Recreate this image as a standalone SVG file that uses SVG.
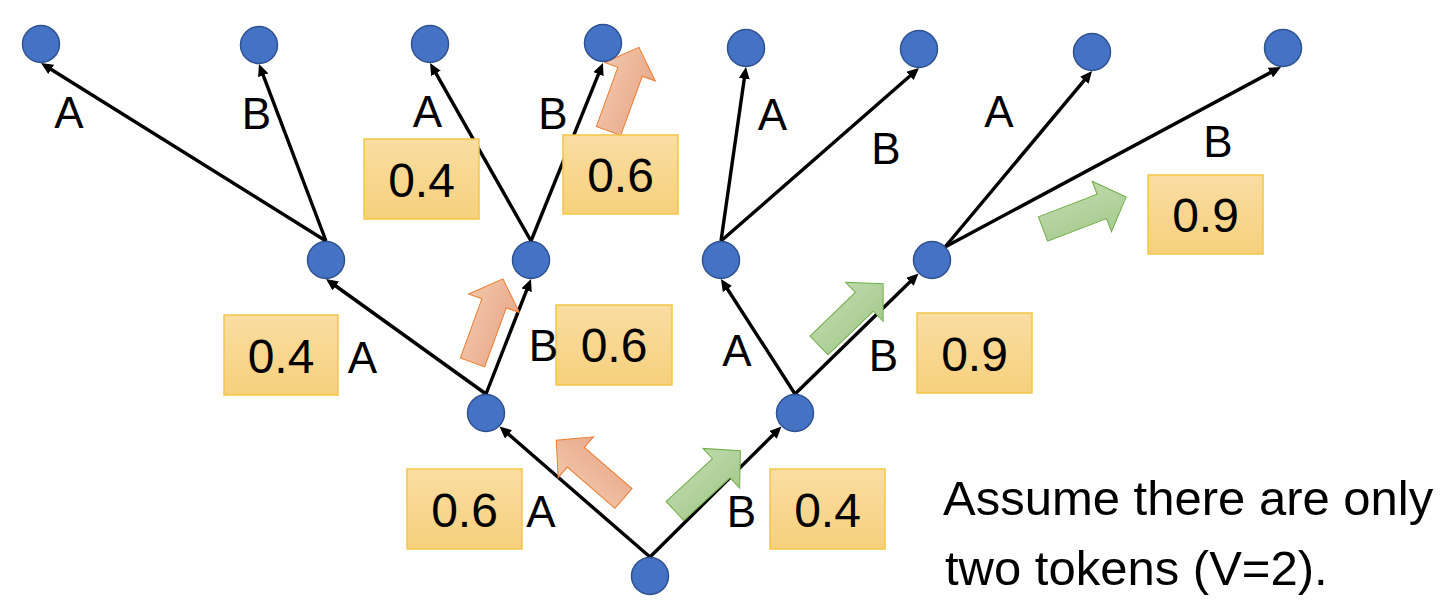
<svg xmlns="http://www.w3.org/2000/svg" xmlns:xlink="http://www.w3.org/1999/xlink" width="1442" height="616" viewBox="0 0 1442 616">
<style>
.edge{stroke:#000;stroke-width:3.4;fill:none;marker-end:url(#ah)}
.node{fill:#4472C4;stroke:#2F528F;stroke-width:1.5}
.box{fill:url(#gbox);stroke:#F4C646;stroke-width:1.5}
.num{font-family:"Liberation Sans",Arial,sans-serif;font-size:48px;text-anchor:middle;fill:#000}
.lbl{font-family:"Liberation Sans",Arial,sans-serif;font-size:44px;text-anchor:middle;fill:#000}
.note{font-family:"Liberation Sans",Arial,sans-serif;font-size:49px;fill:#000}
.orange{fill:url(#gor);stroke:#ED7D31;stroke-width:1}
.green{fill:url(#ggr);stroke:#70AD47;stroke-width:1}
</style>
<defs>
<marker id="ah" viewBox="0 0 12 11" markerWidth="12" markerHeight="11" refX="6" refY="5.5" markerUnits="userSpaceOnUse" orient="auto">
<path d="M0,0 L12,5.5 L0,11 z" fill="#000"/>
</marker>
<linearGradient id="gbox" x1="0" y1="0" x2="0" y2="1">
<stop offset="0" stop-color="#F9DDA2"/>
<stop offset="1" stop-color="#F6D07C"/>
</linearGradient>
<linearGradient id="gor" x1="0" y1="0" x2="0" y2="1">
<stop offset="0" stop-color="#F2C6AA"/>
<stop offset="1" stop-color="#E9A98B"/>
</linearGradient>
<linearGradient id="ggr" x1="0" y1="0" x2="0" y2="1">
<stop offset="0" stop-color="#BDD9AB"/>
<stop offset="1" stop-color="#A6CB8E"/>
</linearGradient>
<path id="barrow" d="M0,-13 L63,-13 L63,-27 L89,0 L63,27 L63,13 L0,13 z"/>
</defs>
<rect width="1442" height="616" fill="#fff"/>

<g id="connectors">
<line class="edge" x1="650" y1="557" x2="504.0" y2="430.4"/>
<line class="edge" x1="650" y1="557" x2="777.2" y2="430.7"/>
<line class="edge" x1="486" y1="394" x2="330.9" y2="282.5"/>
<line class="edge" x1="486" y1="394" x2="528.8" y2="284.6"/>
<line class="edge" x1="795" y1="394" x2="724.2" y2="284.0"/>
<line class="edge" x1="795" y1="394" x2="914.2" y2="277.7"/>
<line class="edge" x1="326" y1="241" x2="46.1" y2="66.2"/>
<line class="edge" x1="326" y1="241" x2="261.1" y2="69.6"/>
<line class="edge" x1="531" y1="241" x2="433.0" y2="68.2"/>
<line class="edge" x1="531" y1="241" x2="600.7" y2="68.6"/>
<line class="edge" x1="721" y1="241" x2="745.1" y2="72.9"/>
<line class="edge" x1="721" y1="241" x2="914.5" y2="72.0"/>
<line class="edge" x1="945" y1="247" x2="1088.2" y2="75.6"/>
<line class="edge" x1="945" y1="247" x2="1275.7" y2="69.8"/>
</g>

<g id="block-arrows">
<use xlink:href="#barrow" class="orange" transform="translate(623.5,498.5) rotate(220.9)"/>
<use xlink:href="#barrow" class="orange" transform="translate(472.5,362.5) rotate(-70)"/>
<use xlink:href="#barrow" class="orange" transform="translate(608.5,131) rotate(-70)"/>
<use xlink:href="#barrow" class="green" transform="translate(675,511) rotate(-42.7)"/>
<use xlink:href="#barrow" class="green" transform="translate(819,345.5) rotate(-43.9)"/>
<use xlink:href="#barrow" class="green" transform="translate(1043,229) rotate(-21)"/>
</g>

<g id="prob-boxes">
<g id="p-root-A"><rect class="box" x="407" y="469" width="115" height="80"/><text class="num" x="464.5" y="527">0.6</text></g>
<g id="p-root-B"><rect class="box" x="770" y="469" width="115" height="80"/><text class="num" x="827.5" y="527">0.4</text></g>
<g id="p-A-A"><rect class="box" x="224" y="315" width="114" height="80"/><text class="num" x="281" y="373">0.4</text></g>
<g id="p-A-B"><rect class="box" x="556" y="305" width="116" height="80"/><text class="num" x="614" y="362">0.6</text></g>
<g id="p-B-B"><rect class="box" x="917" y="313" width="115" height="80"/><text class="num" x="974.5" y="371">0.9</text></g>
<g id="p-AB-A"><rect class="box" x="364" y="139" width="115" height="80"/><text class="num" x="421.5" y="197">0.4</text></g>
<g id="p-AB-B"><rect class="box" x="563" y="135" width="115" height="79"/><text class="num" x="620.5" y="192">0.6</text></g>
<g id="p-BB-B"><rect class="box" x="1148" y="175" width="115" height="79"/><text class="num" x="1205.5" y="232">0.9</text></g>
</g>

<g id="edge-labels">
<text class="lbl" x="541" y="527">A</text>
<text class="lbl" x="741.5" y="527">B</text>
<text class="lbl" x="362.5" y="373">A</text>
<text class="lbl" x="543.5" y="361">B</text>
<text class="lbl" x="737" y="366">A</text>
<text class="lbl" x="883.5" y="371">B</text>
<text class="lbl" x="69" y="128">A</text>
<text class="lbl" x="256.5" y="129">B</text>
<text class="lbl" x="427.5" y="127">A</text>
<text class="lbl" x="553" y="129">B</text>
<text class="lbl" x="772.5" y="130">A</text>
<text class="lbl" x="886" y="164">B</text>
<text class="lbl" x="999" y="127">A</text>
<text class="lbl" x="1218" y="157">B</text>
</g>

<g id="n-root"><circle class="node" cx="650" cy="576" r="18.5"/></g>
<g id="n-A"><circle class="node" cx="486" cy="413" r="18.5"/></g>
<g id="n-B"><circle class="node" cx="795" cy="413" r="18.5"/></g>
<g id="n-AA"><circle class="node" cx="326" cy="260" r="18.5"/></g>
<g id="n-AB"><circle class="node" cx="531" cy="260" r="18.5"/></g>
<g id="n-BA"><circle class="node" cx="721" cy="260" r="18.5"/></g>
<g id="n-BB"><circle class="node" cx="932" cy="260" r="18.5"/></g>
<g id="n-AAA"><circle class="node" cx="41" cy="44" r="18.5"/></g>
<g id="n-AAB"><circle class="node" cx="259" cy="45" r="18.5"/></g>
<g id="n-ABA"><circle class="node" cx="430" cy="44" r="18.5"/></g>
<g id="n-ABB"><circle class="node" cx="603" cy="43" r="18.5"/></g>
<g id="n-BAA"><circle class="node" cx="746" cy="48" r="18.5"/></g>
<g id="n-BAB"><circle class="node" cx="919" cy="49" r="18.5"/></g>
<g id="n-BBA"><circle class="node" cx="1092" cy="52" r="18.5"/></g>
<g id="n-BBB"><circle class="node" cx="1283" cy="48" r="18.5"/></g>

<g id="note">
<text class="note" x="943" y="515">Assume there are only</text>
<text class="note" x="945" y="585">two tokens (V=2).</text>
</g>
</svg>
